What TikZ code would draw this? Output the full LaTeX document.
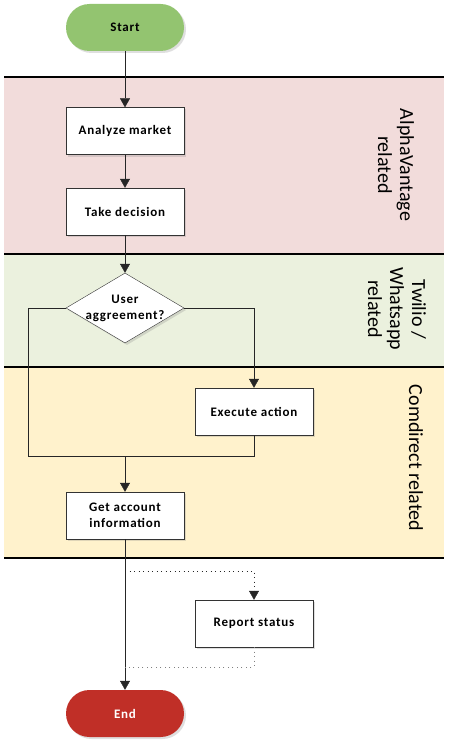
\documentclass[tikz,border=0pt]{standalone}
\usepackage{fontspec}
\setmainfont{Carlito}
\newfontfamily\boxfont[LetterSpace=6]{Carlito}
\usetikzlibrary{arrows.meta,shapes.geometric,shadows}
\definecolor{lanered}{RGB}{242,220,219}
\definecolor{lanegreen}{RGB}{235,241,222}
\definecolor{laneyellow}{RGB}{255,242,204}
\definecolor{startgreen}{RGB}{147,196,112}
\definecolor{endred}{RGB}{192,47,39}
\tikzset{
  box/.style={draw=black!80,fill=white,minimum width=118pt,minimum height=47pt,
    inner sep=0pt,align=center,font=\boxfont\bfseries\fontsize{13}{16}\selectfont,
    drop shadow={shadow xshift=2pt,shadow yshift=-2pt,opacity=0.25}},
  terminal/.style={box,draw=none,rounded corners=23.5pt},
  decision/.style={box,diamond,shape aspect=1.686,minimum height=70pt,inner sep=-3.5pt},
  arr/.style={-{Triangle[width=10pt,length=9pt]},black!85},
  link/.style={black!85},
  dots/.style={gray,dash pattern=on 1pt off 3.5pt},
  lanename/.style={rotate=-90,align=center,font=\fontsize{20}{22}\selectfont},
  laneline/.style={line width=2pt}
}
\begin{document}
\begin{tikzpicture}[x=1pt,y=-1pt]
  \useasboundingbox (0,0) rectangle (456,749);
  % swim lanes
  \fill[lanered] (4,77) rectangle (444,254);
  \fill[lanegreen] (4,254) rectangle (444,367);
  \fill[laneyellow] (4,367) rectangle (444,558);
  \foreach \y in {77,254,367,558}
    \draw[laneline] (4,\y) -- (444,\y);
  \node[lanename] (alpha) at (396,165) {AlphaVantage\\related};
  \node[lanename] (twilio) at (397,309) {Twilio /\\Whatsapp\\related};
  \node[lanename] (comdirect) at (416,458) {Comdirect related};

  \node[terminal,fill=startgreen] (start) at (125,27.5) {Start};
  \node[box] (analyze) at (125,131) {Analyze market};
  \node[box] (decide) at (125,211.5) {Take decision};
  \node[decision] (agree) at (125,308) {User\\aggreement?};
  \node[box] (execute) at (254,411.5) {Execute action};
  \node[box] (account) at (125,515.5) {Get account\\information};
  \node[box] (report) at (254,623.5) {Report status};
  \node[terminal,fill=endred,text=white] (finish) at (125,713.5) {End};

  \coordinate (join) at (125,456);
  \coordinate (fork) at (125,571);
  \coordinate (merge) at (125,667);

  \draw[arr] (start) -- (analyze);
  \draw[arr] (analyze) -- (decide);
  \draw[arr] (decide) -- (agree);
  \draw[arr] (agree.east) -| (execute);
  \draw[link] (agree.west) -| (28,456) -| (execute.south);
  \draw[arr] (join) -- (account);
  \draw[arr] (account) -- (finish);
  \draw[dots,arr] (fork) -| (report);
  \draw[dots] (report) |- (merge);
\end{tikzpicture}
\end{document}
